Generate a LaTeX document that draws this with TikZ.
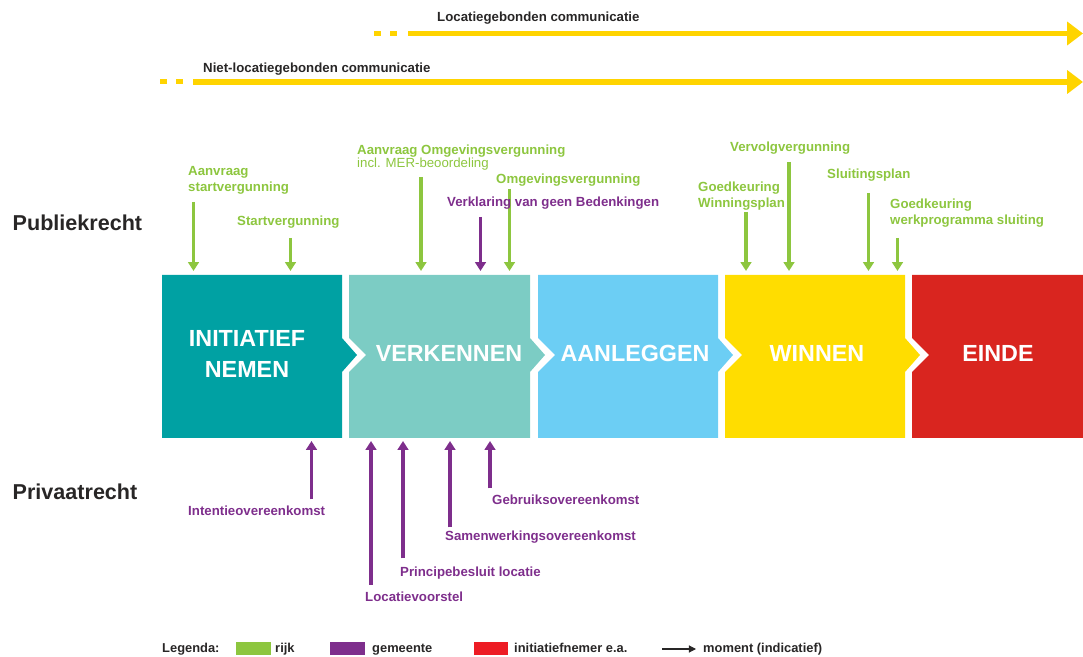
\documentclass[tikz,border=0pt]{standalone}
\usepackage{fontspec}
\setmainfont{Liberation Sans}
\usetikzlibrary{arrows.meta}

\definecolor{rijk}{RGB}{141,198,63}
\definecolor{gemeente}{RGB}{126,46,140}
\definecolor{initnemer}{RGB}{237,28,36}
\definecolor{comm}{RGB}{255,212,0}
\definecolor{donker}{RGB}{40,38,38}
\definecolor{faseA}{RGB}{0,161,163}
\definecolor{faseB}{RGB}{124,204,196}
\definecolor{faseC}{RGB}{108,206,244}
\definecolor{faseD}{RGB}{255,221,0}
\definecolor{faseE}{RGB}{217,37,31}

\begin{document}
\begin{tikzpicture}[x=0.03cm, y=-0.03cm,
    lbl/.style={anchor=base west, inner sep=0, font=\fontsize{11.3}{14.1}\selectfont\bfseries},
    rijklbl/.style={lbl, text=rijk, align=left},
    gemlbl/.style={lbl, text=gemeente},
    kop/.style={anchor=base west, inner sep=0, text=donker, font=\fontsize{18.4}{22}\selectfont\bfseries},
    legtxt/.style={anchor=base west, inner sep=0, text=donker, font=\fontsize{11}{13}\selectfont\bfseries},
    fase/.style={inner sep=0, text=white, align=center, font=\fontsize{19.9}{26.5}\selectfont\bfseries},
    rijkpijl/.style={draw=rijk, line width=2.6pt, -{Triangle[length=7.5pt,width=9pt]}},
    gempijl/.style={draw=gemeente, line width=2.6pt, -{Triangle[length=7.5pt,width=9pt]}},
    commpijl/.style={draw=comm, line width=4.3pt, -{Triangle[length=13.5pt,width=19.5pt]}}]

    \useasboundingbox (0,0) rectangle (1083,657);

    % communicatie
    \fill[comm] (374,31) rectangle (381,36);
    \fill[comm] (390,31) rectangle (397,36);
    \coordinate (locA) at (408,33.5);
    \coordinate (locB) at (1083,33.5);
    \draw[commpijl] (locA) -- (locB);
        \node[lbl, text=donker] (loc) at (437,21.7){Locatiegebonden communicatie};

    \fill[comm] (160,79.5) rectangle (167,84.5);
    \fill[comm] (176,79.5) rectangle (183,84.5);
    \coordinate (nlocA) at (193,82);
    \coordinate (nlocB) at (1083,82);
    \draw[commpijl] (nlocA) -- (nlocB);
        \node[lbl, text=donker] (nloc) at (203,72.5){Niet-locatiegebonden communicatie};

    \node[kop] (publiek) at (12.5,230.5){Publiekrecht};
    \node[kop] (privaat) at (12.5,500){Privaatrecht};

    % fasen
    \fill[faseA] (162,275) -- (342,275) -- (342,338) -- (357,355) -- (342,372) -- (342,438) -- (162,438) -- cycle;
    \fill[faseB] (349,275) -- (530,275) -- (530,338) -- (545,355) -- (530,372) -- (530,438) -- (349,438)
        -- (349,372) -- (366,355) -- (349,338) -- cycle;
    \fill[faseC] (538,275) -- (718,275) -- (718,338) -- (733,355) -- (718,372) -- (718,438) -- (538,438)
        -- (538,372) -- (555,355) -- (538,338) -- cycle;
    \fill[faseD] (725,275) -- (905,275) -- (905,338) -- (920,355) -- (905,372) -- (905,438) -- (725,438)
        -- (725,372) -- (742,355) -- (725,338) -- cycle;
    \fill[faseE] (912,275) -- (1083,275) -- (1083,438) -- (912,438)
        -- (912,372) -- (929,355) -- (912,338) -- cycle;

    \node[fase] (initiatief) at (247,354){INITIATIEF\\NEMEN};
    \node[fase] (verkennen) at (449,353.5){VERKENNEN};
    \node[fase] (aanleggen) at (635,353.5){AANLEGGEN};
    \node[fase] (winnen) at (817,353.5){WINNEN};
    \node[fase] (einde) at (998,353.5){EINDE};

    \coordinate (boven) at (0,271);
    \coordinate (onder) at (0,441);

    % publiekrecht
    \node[rijklbl] (aanstart) at (188,192){Aanvraag\\startvergunning};
    \coordinate (r1) at (193.5,202);
    \draw[rijkpijl] (r1) -- (r1 |- boven);
    \node[rijklbl] (start) at (237,226){Startvergunning};
    \coordinate (r2) at (290.5,238);
    \draw[rijkpijl] (r2) -- (r2 |- boven);
    \node[rijklbl] (aanomg) at (357,168){Aanvraag Omgevingsvergunning\\[-2.5pt]\mdseries incl. MER-beoordeling};
    \coordinate (r3) at (421,177);
    \draw[rijkpijl] (r3) -- (r3 |- boven);
    \node[rijklbl] (omg) at (496,184){Omgevingsvergunning};
    \coordinate (r4) at (509.5,189);
    \draw[rijkpijl] (r4) -- (r4 |- boven);
    \node[gemlbl] (vvgb) at (447,207){Verklaring van geen Bedenkingen};
    \coordinate (g0) at (480.5,217);
    \draw[gempijl] (g0) -- (g0 |- boven);
    \node[rijklbl] (winplan) at (698,208){Goedkeuring\\Winningsplan};
    \coordinate (r5) at (746,212);
    \draw[rijkpijl] (r5) -- (r5 |- boven);
    \node[rijklbl] (vervolg) at (730,152){Vervolgvergunning};
    \coordinate (r6) at (789,162);
    \draw[rijkpijl] (r6) -- (r6 |- boven);
    \node[rijklbl] (sluitplan) at (827,179){Sluitingsplan};
    \coordinate (r7) at (868.5,193);
    \draw[rijkpijl] (r7) -- (r7 |- boven);
    \node[rijklbl] (werkprog) at (890,225){Goedkeuring\\werkprogramma sluiting};
    \coordinate (r8) at (897.5,238);
    \draw[rijkpijl] (r8) -- (r8 |- boven);

    % privaatrecht
    \node[gemlbl] (intentie) at (188,515.5){Intentieovereenkomst};
    \coordinate (p1) at (311.5,499.5);
    \draw[gempijl] (p1) -- (p1 |- onder);
    \node[gemlbl] (locvoor) at (365,601.5){Locatievoorstel};
    \coordinate (p2) at (371,585);
    \draw[gempijl] (p2) -- (p2 |- onder);
    \node[gemlbl] (principe) at (400,576.5){Principebesluit locatie};
    \coordinate (p3) at (403,558.5);
    \draw[gempijl] (p3) -- (p3 |- onder);
    \node[gemlbl] (samen) at (445,540.5){Samenwerkingsovereenkomst};
    \coordinate (p4) at (450,527.5);
    \draw[gempijl] (p4) -- (p4 |- onder);
    \node[gemlbl] (gebruik) at (492,505){Gebruiksovereenkomst};
    \coordinate (p5) at (490,488.5);
    \draw[gempijl] (p5) -- (p5 |- onder);

    % legenda
    \node[legtxt] (legenda) at (162,652.5){Legenda:};
    \fill[rijk] (236,642) rectangle (271,655);
        \node[legtxt] (lrijk) at (275,652.5){rijk};
    \fill[gemeente] (330,642) rectangle (365,655);
        \node[legtxt] (lgem) at (372,652.5){gemeente};
    \fill[initnemer] (474,642) rectangle (508,655);
        \node[legtxt] (linit) at (514,652.5){initiatiefnemer e.a.};
    \coordinate (lpA) at (662,649);
    \coordinate (lpB) at (696,649);
    \draw[donker, line width=0.9pt, -{Triangle[length=6pt,width=6pt]}] (lpA) -- (lpB);
        \node[legtxt] (lmoment) at (703,652.5){moment (indicatief)};

\end{tikzpicture}
\end{document}
